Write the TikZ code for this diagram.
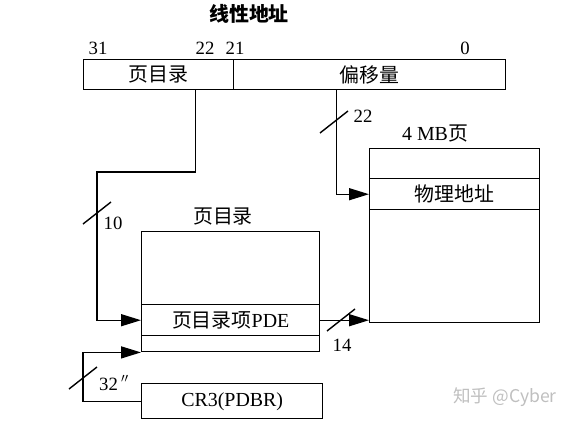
\documentclass[tikz,border=0pt]{standalone}
\usepackage{fontspec}
\setmainfont{Liberation Serif}
\newfontfamily\cjk{Noto Sans CJK SC}
\usetikzlibrary{arrows.meta}

\begin{document}
\begin{tikzpicture}[x=0.03cm, y=-0.03cm, line width=1.2pt,
    font=\fontsize{17}{20}\selectfont,
    field/.style={draw, inner sep=0pt, anchor=north west},
    num/.style={font=\fontsize{16}{18}\selectfont},
    arr/.style={-{Triangle[length=0.6cm, width=0.36cm]}}]
    \useasboundingbox (0,0) rectangle (572,424);

    % Linear address
    \node[font=\fontsize{17}{20}\selectfont\cjk\bfseries] (lintitle) at (249,14) {线性地址};
    \node[field, minimum width=4.5cm, minimum height=0.9cm] (dirf) at (83,59) {\cjk 页目录};
    \node[field, minimum width=8.16cm, minimum height=0.9cm] (offf) at (233,59) {\cjk 偏移量};
    \node[num] (b31) at (98,48) {31};
    \node[num] (b22) at (205,48) {22};
    \node[num] (b21) at (235,48) {21};
    \node[num] (b0) at (465,48) {0};

    % Page directory
    \node (pdtitle) at (223,216) {\cjk 页目录};
    \node[field, minimum width=5.34cm, minimum height=2.19cm] (pdtop) at (141,231) {};
    \node[field, minimum width=5.34cm, minimum height=0.93cm] (pde) at (141,304) {{\cjk 页目录项}PDE};
    \node[field, minimum width=5.34cm, minimum height=0.48cm] (pdbot) at (141,335) {};

    % 4 MB page
    \node (pgtitle) at (435,134) {4 MB{\cjk 页}};
    \node[field, minimum width=5.1cm, minimum height=0.9cm] (pgtop) at (369,148) {};
    \node[field, minimum width=5.1cm, minimum height=0.93cm] (phys) at (369,178) {\cjk 物理地址};
    \node[field, minimum width=5.1cm, minimum height=3.39cm] (pgbot) at (369,209) {};

    % CR3
    \node[field, minimum width=5.43cm, minimum height=1.05cm] (cr3) at (141,383) {CR3(PDBR)};

    % Directory index, 10 bits
    \draw[arr] ([xshift=1.11cm]dirf.south) |- (97,172) |- (pde.west);
    \coordinate (m10) at (97,213);
    \draw (m10) ++(-14,11) -- ++(28,-22);
    \node[num] (n10) at (113,223) {10};

    % Offset, 22 bits
    \draw[arr] ([xshift=-0.99cm]offf.south) |- (phys.west);
    \coordinate (m22) at (334,122);
    \draw (m22) ++(-14,11) -- ++(28,-22);
    \node[num] (n22) at (363,116) {22};

    % Page frame, 14 bits
    \draw[arr] (pde.east) -- (pde.east -| pgbot.west);
    \coordinate (m14) at (341,320);
    \draw (m14) ++(-14,11) -- ++(28,-22);
    \node[num] (n14) at (342,345) {14};

    % Directory base, 32 bits
    \draw[arr] (cr3.west) -- ++(-58,0) |- (pdbot.south west);
    \coordinate (m32) at (83,378);
    \draw (m32) ++(-14,11) -- ++(28,-22);
    \node[num] (n32) at (114,383) {32\,$''$};

    % watermark
    \node[text=black!25, font=\fontsize{15}{17}\selectfont\cjk] (wm) at (505,397) {知乎 @Cyber};
\end{tikzpicture}
\end{document}
